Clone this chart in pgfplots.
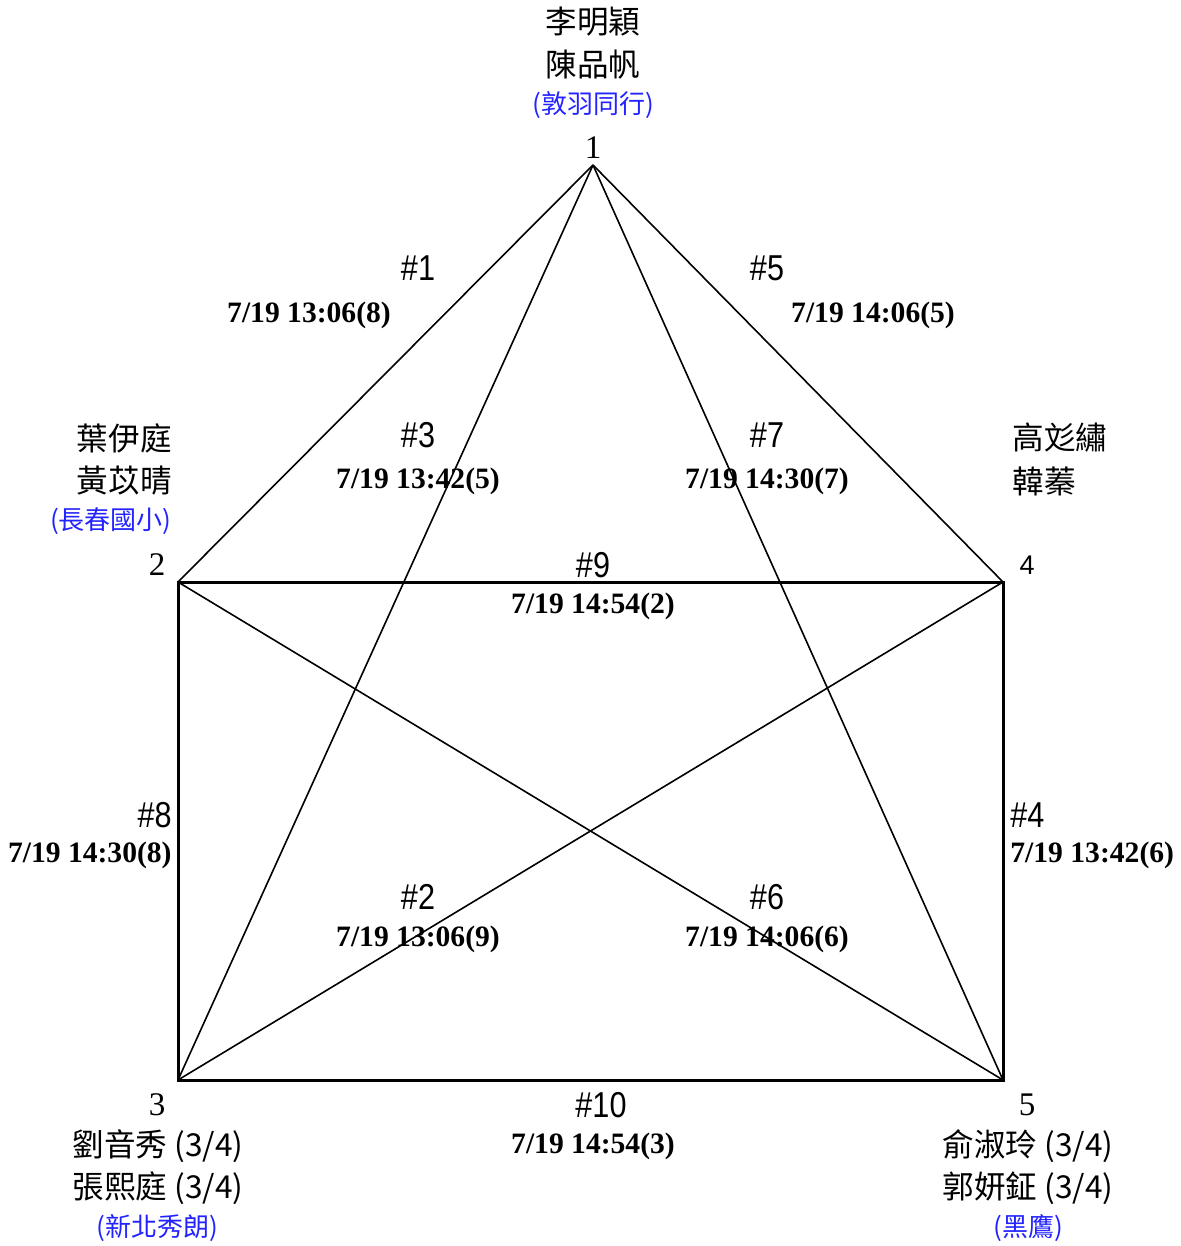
\documentclass[border=0pt]{standalone}
\usepackage{pgfplots}
\pgfplotsset{compat=1.18}
\usepackage{fontspec}
\setmainfont{Liberation Serif}
\newfontfamily\cjk{Noto Sans CJK TC}
\newfontfamily\hashfont[FakeStretch=0.85]{Liberation Sans}
\newfontfamily\sansf{Liberation Sans}
\definecolor{tblue}{RGB}{35,35,255}
\newcommand{\nm}[1]{{\cjk\fontsize{15.8}{18}\selectfont #1}}
\newcommand{\cl}[1]{{\color{tblue}\cjk\fontsize{13}{15}\selectfont #1}}
\newcommand{\gm}[1]{{\hashfont\fontsize{18}{20}\selectfont #1}}
\newcommand{\dt}[1]{{\bfseries\fontsize{14.8}{16}\selectfont #1}}
\newcommand{\vn}[1]{{\fontsize{16.5}{18}\selectfont #1}}
\begin{document}
\begin{tikzpicture}
\begin{axis}[hide axis, scale only axis, width=590pt, height=623pt,
  xmin=0, xmax=1180, ymin=0, ymax=1246, y dir=reverse, clip=false]
\coordinate (SW) at (axis cs:0,1246);
\coordinate (NE) at (axis cs:1180,0);
% thin lines
\addplot[black, line width=0.8pt, mark=none] coordinates {(593,165) (178,582)};
\addplot[black, line width=0.8pt, mark=none] coordinates {(593,165) (178,1080)};
\addplot[black, line width=0.8pt, mark=none] coordinates {(593,165) (1003,582)};
\addplot[black, line width=0.8pt, mark=none] coordinates {(593,165) (1003,1080)};
\addplot[black, line width=0.8pt, mark=none] coordinates {(178,582) (1003,1080)};
\addplot[black, line width=0.8pt, mark=none] coordinates {(178,1080) (1003,582)};
% thick rectangle
\addplot[black, line width=1.5pt, mark=none, line join=miter] coordinates {(178,582) (1003,582) (1003,1080) (178,1080) (178,582) (1003,582)};
% vertex numbers
\node[inner sep=0] at (axis cs:593,148) {\vn{1}};
\node[inner sep=0] at (axis cs:157,565) {\vn{2}};
\node[inner sep=0] at (axis cs:157,1105) {\vn{3}};
\node[inner sep=0] at (axis cs:1027,565) {{\sansf\fontsize{13.5}{15}\selectfont 4}};
\node[inner sep=0] at (axis cs:1027,1105) {\vn{5}};
% team names
\node[inner sep=0] at (axis cs:593,22) {\nm{李明穎}};
\node[inner sep=0] at (axis cs:593,65) {\nm{陳品帆}};
\node[inner sep=0] at (axis cs:593,105) {\cl{(敦羽同行)}};
\node[inner sep=0, anchor=east] at (axis cs:172,438) {\nm{葉伊庭}};
\node[inner sep=0, anchor=east] at (axis cs:172,481) {\nm{黃苡晴}};
\node[inner sep=0, anchor=east] at (axis cs:172,521) {\cl{(長春國小)}};
\node[inner sep=0, anchor=west] at (axis cs:1012,438) {\nm{高彣繡}};
\node[inner sep=0, anchor=west] at (axis cs:1012,481) {\nm{韓蓁}};
\node[inner sep=0] at (axis cs:158,1146) {\nm{劉音秀 (3/4)}};
\node[inner sep=0] at (axis cs:158,1188) {\nm{張熙庭 (3/4)}};
\node[inner sep=0] at (axis cs:157,1228) {\cl{(新北秀朗)}};
\node[inner sep=0] at (axis cs:1028,1146) {\nm{俞淑玲 (3/4)}};
\node[inner sep=0] at (axis cs:1028,1188) {\nm{郭妍鉦 (3/4)}};
\node[inner sep=0] at (axis cs:1028,1228) {\cl{(黑鷹)}};
% matches
\node[inner sep=0] at (axis cs:418,268) {\gm{\#1}};
\node[inner sep=0] at (axis cs:309,315) {\dt{7/19 13:06(8)}};
\node[inner sep=0] at (axis cs:767,268) {\gm{\#5}};
\node[inner sep=0] at (axis cs:873,315) {\dt{7/19 14:06(5)}};
\node[inner sep=0] at (axis cs:418,435) {\gm{\#3}};
\node[inner sep=0] at (axis cs:418,481) {\dt{7/19 13:42(5)}};
\node[inner sep=0] at (axis cs:767,435) {\gm{\#7}};
\node[inner sep=0] at (axis cs:767,481) {\dt{7/19 14:30(7)}};
\node[inner sep=0] at (axis cs:593,565) {\gm{\#9}};
\node[inner sep=0] at (axis cs:593,606) {\dt{7/19 14:54(2)}};
\node[inner sep=0, anchor=east] at (axis cs:172,815) {\gm{\#8}};
\node[inner sep=0, anchor=east] at (axis cs:172,855) {\dt{7/19 14:30(8)}};
\node[inner sep=0, anchor=west] at (axis cs:1010,815) {\gm{\#4}};
\node[inner sep=0, anchor=west] at (axis cs:1010,855) {\dt{7/19 13:42(6)}};
\node[inner sep=0] at (axis cs:418,897) {\gm{\#2}};
\node[inner sep=0] at (axis cs:418,939) {\dt{7/19 13:06(9)}};
\node[inner sep=0] at (axis cs:767,897) {\gm{\#6}};
\node[inner sep=0] at (axis cs:767,939) {\dt{7/19 14:06(6)}};
\node[inner sep=0] at (axis cs:601,1105) {\gm{\#10}};
\node[inner sep=0] at (axis cs:593,1146) {\dt{7/19 14:54(3)}};
\end{axis}
\pgfresetboundingbox
\path (SW) rectangle (NE);
\end{tikzpicture}
\end{document}
